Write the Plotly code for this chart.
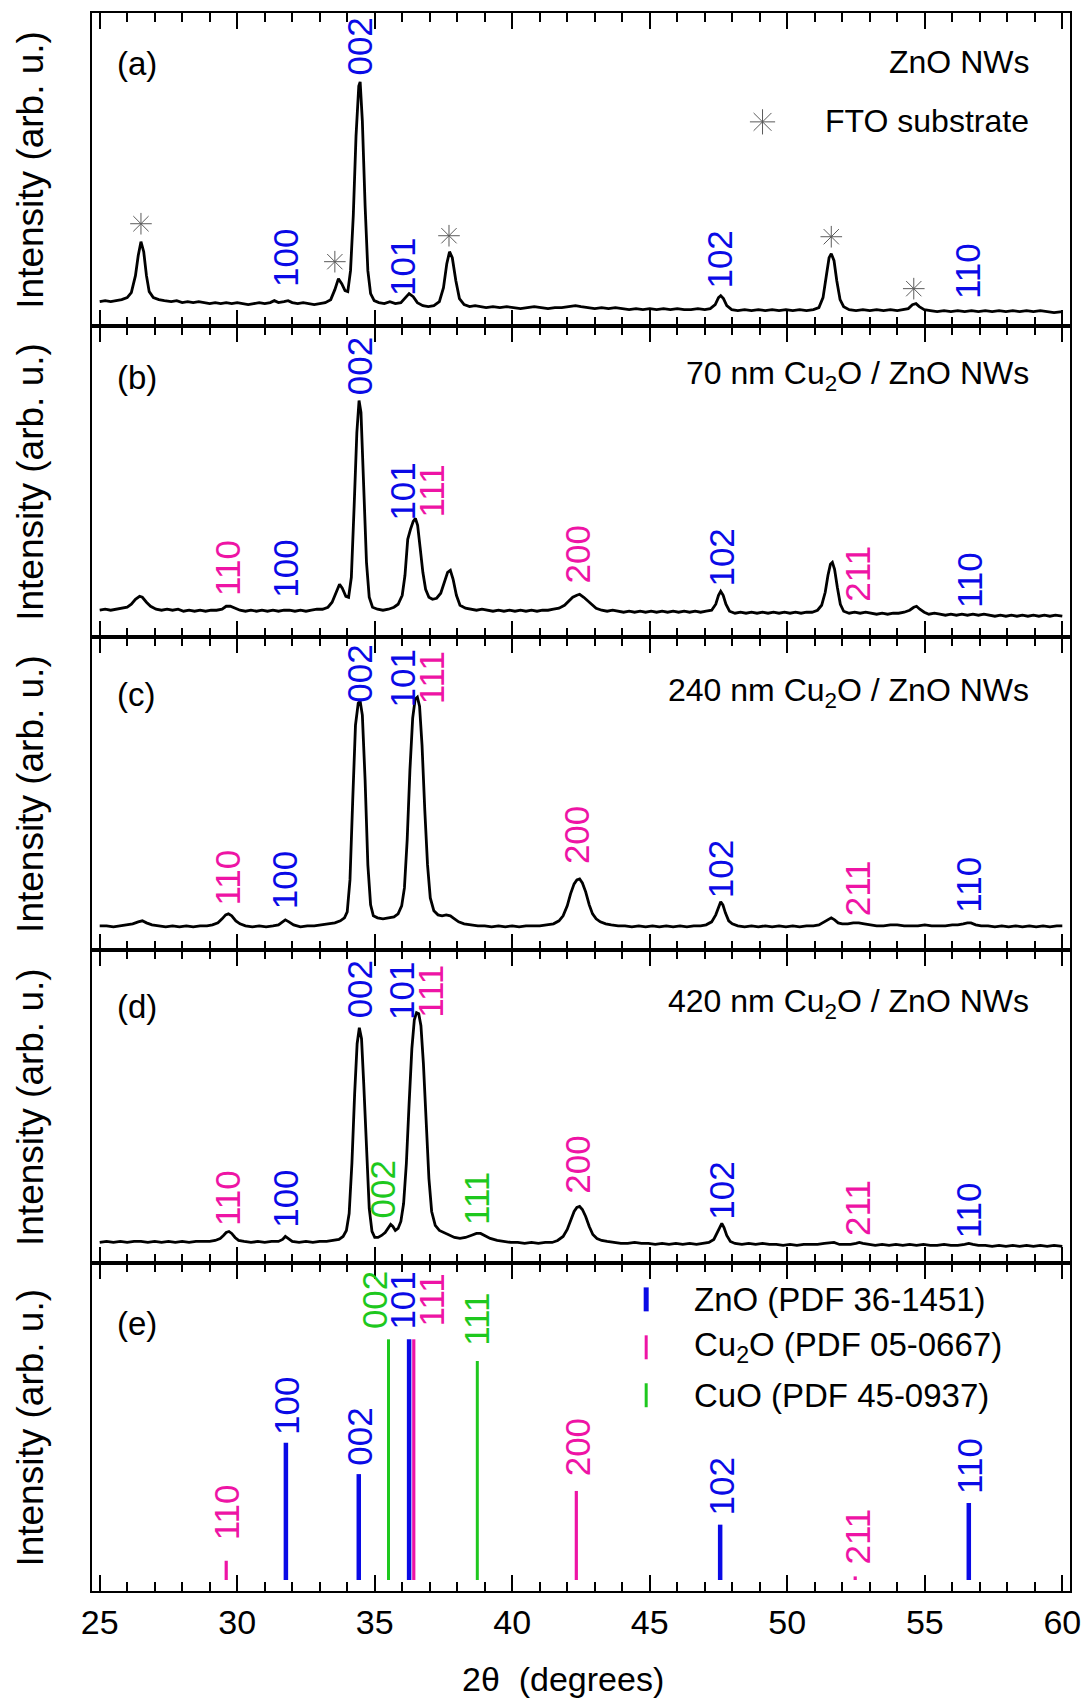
import plotly.graph_objects as go

# ---------------- data ----------------
# XRD patterns: (2theta, intensity in arbitrary units)
pattern_a = [(25.0,24),(25.2,25),(25.4,24),(25.6,25),(25.8,26),(26.0,28),(26.15,33),(26.3,50),(26.4,70),(26.5,84),(26.6,74),(26.7,50),(26.8,34),(26.95,28),(27.15,26),(27.35,25),(27.6,24),(27.8,25),(28.0,23),(28.2,24),(28.4,23),(28.6,24),(28.8,23),(29.0,22),(29.2,23),(29.4,22),(29.6,23),(29.8,22),(30.0,23),(30.2,22),(30.4,21),(30.6,22),(30.8,23),(31.0,22),(31.2,23),(31.35,25),(31.5,23),(31.7,24),(31.85,25),(32.0,23),(32.2,22),(32.4,23),(32.6,22),(32.8,21),(33.0,22),(33.2,23),(33.4,26),(33.55,36),(33.68,47),(33.8,42),(33.92,35),(34.02,34),(34.12,55),(34.22,110),(34.32,190),(34.42,240),(34.47,244),(34.55,205),(34.65,120),(34.75,55),(34.85,32),(34.98,25),(35.15,23),(35.35,22),(35.55,24),(35.75,22),(35.95,23),(36.1,27),(36.25,32),(36.4,29),(36.55,23),(36.75,20),(36.95,19),(37.15,20),(37.35,24),(37.5,38),(37.62,62),(37.72,74),(37.82,68),(37.95,45),(38.08,27),(38.25,21),(38.45,19),(38.65,20),(38.85,19),(39.05,18),(39.3,19),(39.55,18),(39.8,19),(40.05,18),(40.3,17),(40.55,18),(40.8,19),(41.05,18),(41.3,17),(41.55,18),(41.8,18),(42.05,19),(42.3,20),(42.5,19),(42.75,18),(43.0,17),(43.25,18),(43.5,17),(43.75,18),(44.0,17),(44.25,16),(44.5,17),(44.75,16),(45.0,17),(45.25,16),(45.5,17),(45.75,16),(46.0,17),(46.25,16),(46.5,16),(46.75,17),(47.0,16),(47.2,17),(47.38,21),(47.5,28),(47.58,30),(47.68,27),(47.8,20),(47.98,16),(48.2,15),(48.45,16),(48.7,15),(48.95,16),(49.2,15),(49.45,16),(49.7,15),(49.95,16),(50.2,15),(50.45,16),(50.7,15),(50.95,16),(51.15,18),(51.3,28),(51.42,50),(51.52,68),(51.6,72),(51.7,65),(51.8,45),(51.92,26),(52.05,19),(52.25,16),(52.5,15),(52.75,16),(53.0,15),(53.25,16),(53.5,15),(53.75,16),(54.0,15),(54.2,16),(54.4,17),(54.55,21),(54.68,22),(54.8,19),(54.98,16),(55.2,15),(55.45,14),(55.7,15),(55.95,14),(56.2,15),(56.45,14),(56.7,15),(56.95,14),(57.2,15),(57.45,14),(57.7,15),(57.95,14),(58.2,15),(58.45,14),(58.7,15),(58.95,14),(59.2,15),(59.45,14),(59.7,13),(60.0,14)]

pattern_b = [(25.0,27),(25.2,28),(25.4,27),(25.6,28),(25.8,29),(26.0,30),(26.15,33),(26.3,38),(26.45,41),(26.55,40),(26.7,35),(26.85,31),(27.05,28),(27.25,27),(27.45,28),(27.65,27),(27.85,28),(28.05,26),(28.25,27),(28.45,26),(28.65,27),(28.85,26),(29.05,27),(29.25,27),(29.45,28),(29.6,31),(29.75,31),(29.9,29),(30.1,27),(30.3,26),(30.5,27),(30.7,26),(30.9,27),(31.1,26),(31.3,27),(31.5,26),(31.7,27),(31.9,27),(32.1,26),(32.3,27),(32.5,26),(32.7,27),(32.9,28),(33.1,28),(33.3,30),(33.45,35),(33.6,46),(33.72,53),(33.82,49),(33.95,41),(34.05,40),(34.15,60),(34.25,130),(34.35,205),(34.43,237),(34.5,225),(34.6,150),(34.7,75),(34.8,40),(34.92,30),(35.1,28),(35.3,27),(35.5,28),(35.7,30),(35.85,33),(36.0,42),(36.1,62),(36.2,98),(36.3,108),(36.4,116),(36.48,119),(36.56,112),(36.65,90),(36.75,65),(36.85,48),(36.97,40),(37.1,38),(37.25,39),(37.4,44),(37.52,55),(37.65,65),(37.75,67),(37.85,58),(37.97,42),(38.1,32),(38.3,29),(38.5,28),(38.7,27),(38.9,28),(39.1,27),(39.3,26),(39.5,27),(39.7,26),(39.9,27),(40.1,26),(40.3,27),(40.5,26),(40.7,27),(40.9,26),(41.1,27),(41.3,27),(41.5,28),(41.7,29),(41.9,32),(42.05,36),(42.2,40),(42.35,42),(42.45,43),(42.6,40),(42.75,36),(42.9,32),(43.05,29),(43.25,27),(43.45,26),(43.65,27),(43.85,26),(44.05,25),(44.25,26),(44.45,25),(44.65,26),(44.85,25),(45.05,26),(45.25,25),(45.45,26),(45.65,25),(45.85,26),(46.05,25),(46.25,26),(46.45,25),(46.65,26),(46.85,25),(47.05,26),(47.25,27),(47.4,33),(47.5,42),(47.58,46),(47.67,42),(47.77,33),(47.9,26),(48.1,24),(48.3,25),(48.5,24),(48.7,25),(48.9,24),(49.1,25),(49.3,24),(49.5,25),(49.7,24),(49.9,25),(50.1,24),(50.3,25),(50.5,24),(50.7,25),(50.9,25),(51.1,27),(51.25,32),(51.38,45),(51.48,62),(51.57,73),(51.64,75),(51.72,68),(51.82,50),(51.93,33),(52.05,26),(52.25,24),(52.45,25),(52.65,24),(52.85,25),(53.05,24),(53.25,23),(53.45,24),(53.65,23),(53.85,24),(54.05,24),(54.25,25),(54.45,27),(54.6,30),(54.7,31),(54.82,28),(54.98,25),(55.15,23),(55.35,24),(55.55,23),(55.75,22),(55.95,23),(56.15,22),(56.35,23),(56.55,22),(56.75,23),(56.95,22),(57.15,23),(57.35,22),(57.55,21),(57.75,22),(57.95,21),(58.15,22),(58.35,21),(58.55,22),(58.75,21),(58.95,22),(59.15,21),(59.35,22),(59.55,21),(59.75,22),(60.0,21)]

pattern_c = [(25.0,24),(25.25,24),(25.5,23),(25.75,24),(26.0,25),(26.2,26),(26.4,28),(26.55,29),(26.7,27),(26.9,25),(27.15,24),(27.4,23),(27.65,24),(27.9,23),(28.15,24),(28.4,23),(28.65,24),(28.9,24),(29.1,25),(29.3,27),(29.45,31),(29.58,35),(29.68,36),(29.8,34),(29.95,29),(30.1,26),(30.3,24),(30.55,23),(30.8,24),(31.05,23),(31.3,24),(31.5,25),(31.65,28),(31.75,30),(31.88,28),(32.05,25),(32.3,23),(32.55,24),(32.8,24),(33.05,25),(33.3,26),(33.55,27),(33.75,29),(33.9,32),(34.0,38),(34.1,70),(34.2,150),(34.3,225),(34.4,247),(34.47,249),(34.55,235),(34.65,170),(34.75,85),(34.85,45),(34.95,34),(35.1,32),(35.3,31),(35.5,32),(35.7,33),(35.85,36),(35.98,44),(36.08,62),(36.18,110),(36.28,180),(36.38,232),(36.47,251),(36.55,253),(36.63,244),(36.72,205),(36.82,140),(36.92,85),(37.02,52),(37.15,39),(37.3,35),(37.45,34),(37.6,35),(37.75,34),(37.9,31),(38.05,28),(38.25,26),(38.5,25),(38.75,24),(39.0,24),(39.25,23),(39.5,24),(39.75,23),(40.0,24),(40.25,23),(40.5,24),(40.75,24),(41.0,24),(41.25,25),(41.5,26),(41.7,29),(41.85,34),(42.0,44),(42.12,56),(42.25,66),(42.35,70),(42.45,71),(42.55,67),(42.67,58),(42.8,45),(42.92,36),(43.05,31),(43.2,28),(43.4,26),(43.6,25),(43.85,24),(44.1,24),(44.35,23),(44.6,24),(44.85,23),(45.1,24),(45.35,23),(45.6,24),(45.85,23),(46.1,24),(46.35,23),(46.6,24),(46.85,24),(47.05,25),(47.25,28),(47.4,35),(47.5,43),(47.58,48),(47.66,45),(47.75,37),(47.87,29),(48.0,26),(48.2,24),(48.45,23),(48.7,24),(48.95,23),(49.2,24),(49.45,23),(49.7,24),(49.95,23),(50.2,24),(50.45,23),(50.7,24),(50.95,24),(51.15,25),(51.35,28),(51.5,31),(51.6,32),(51.72,30),(51.85,27),(52.0,26),(52.2,26),(52.4,27),(52.6,27),(52.8,26),(53.0,25),(53.25,24),(53.5,24),(53.75,25),(54.0,25),(54.25,24),(54.5,24),(54.75,24),(55.0,25),(55.25,24),(55.5,24),(55.75,24),(56.0,25),(56.2,25),(56.4,26),(56.55,27),(56.68,27),(56.85,25),(57.05,24),(57.3,24),(57.55,23),(57.8,24),(58.05,23),(58.3,24),(58.55,23),(58.8,24),(59.05,23),(59.3,24),(59.55,23),(59.8,24),(60.0,24)]

pattern_d = [(25.0,21),(25.25,22),(25.5,21),(25.75,22),(26.0,21),(26.25,22),(26.5,22),(26.75,21),(27.0,22),(27.25,21),(27.5,22),(27.75,21),(28.0,22),(28.25,21),(28.5,22),(28.75,22),(29.0,22),(29.2,23),(29.38,25),(29.5,28),(29.6,31),(29.7,32),(29.8,30),(29.92,26),(30.05,23),(30.25,22),(30.5,21),(30.75,22),(31.0,21),(31.25,22),(31.5,22),(31.65,24),(31.75,27),(31.85,25),(32.0,22),(32.25,21),(32.5,22),(32.75,21),(33.0,22),(33.25,22),(33.5,23),(33.7,24),(33.85,27),(33.97,33),(34.07,50),(34.17,100),(34.27,170),(34.36,220),(34.44,236),(34.52,225),(34.6,180),(34.7,110),(34.8,55),(34.9,32),(35.0,26),(35.12,26),(35.25,28),(35.38,31),(35.5,36),(35.58,39),(35.66,37),(35.75,33),(35.85,35),(35.95,42),(36.05,60),(36.15,100),(36.25,160),(36.35,215),(36.44,244),(36.52,251),(36.6,250),(36.68,238),(36.77,200),(36.87,140),(36.97,85),(37.07,52),(37.2,38),(37.35,33),(37.5,31),(37.7,29),(37.9,26),(38.1,25),(38.3,26),(38.5,28),(38.7,30),(38.85,30),(39.0,28),(39.2,25),(39.45,23),(39.7,22),(39.95,21),(40.2,21),(40.45,20),(40.7,21),(40.95,20),(41.2,21),(41.45,21),(41.65,23),(41.85,27),(42.0,34),(42.12,43),(42.25,52),(42.35,56),(42.45,57),(42.55,54),(42.67,47),(42.8,37),(42.93,29),(43.08,25),(43.25,23),(43.45,22),(43.7,21),(43.95,20),(44.2,20),(44.45,21),(44.7,20),(44.95,20),(45.2,19),(45.45,20),(45.7,19),(45.95,20),(46.2,19),(46.45,20),(46.7,19),(46.95,20),(47.15,21),(47.33,24),(47.46,31),(47.56,38),(47.62,40),(47.7,36),(47.8,28),(47.93,22),(48.1,20),(48.35,19),(48.6,20),(48.85,19),(49.1,20),(49.35,19),(49.6,19),(49.85,18),(50.1,19),(50.35,18),(50.6,19),(50.85,19),(51.1,19),(51.35,20),(51.55,21),(51.7,21),(51.9,19),(52.1,19),(52.3,19),(52.5,20),(52.62,21),(52.75,20),(52.95,19),(53.2,18),(53.45,19),(53.7,18),(53.95,19),(54.2,18),(54.45,19),(54.7,18),(54.95,19),(55.2,18),(55.45,18),(55.7,19),(55.95,18),(56.2,18),(56.45,19),(56.6,20),(56.75,19),(56.95,18),(57.2,18),(57.45,17),(57.7,18),(57.95,17),(58.2,18),(58.45,17),(58.7,18),(58.95,17),(59.2,18),(59.45,17),(59.7,18),(60.0,17)]

# FTO substrate reflections marked in panel (a)
fto_x = [26.5, 33.55, 37.7, 51.6, 54.6]
fto_y = [102, 64, 90, 89, 37]

# Reference patterns (panel e): positions (2theta) and relative intensities (%)
zno_pos = [31.77, 34.42, 36.25, 47.56, 56.60]
zno_int = [57, 44, 100, 23, 32]
cu2o_pos = [29.60, 36.42, 42.33, 52.47]
cu2o_int = [8, 100, 37, 1.5]
cuo_pos = [35.50, 38.73]
cuo_int = [100, 91]

x_ticks = [25, 30, 35, 40, 45, 50, 55, 60]

# ---------------- styling / layout ----------------
FONT = "Liberation Sans, Arial, Helvetica, sans-serif"
BLUE = "#0A0AE6"
PINK = "#EE14A5"
GREEN = "#1EC81E"
COL = {"b": BLUE, "p": PINK, "g": GREEN}
W, H = 1092, 1704
ML, MR, MT = 92, 15, 11
PH = [313, 312, 313, 314, 328]          # panel heights in px, top to bottom
TOTAL = sum(PH)
MB = H - MT - TOTAL
LBL = 35   # peak label size
TXT = 32   # sample titles

fig = go.Figure()

def ax(i):
    return "" if i == 1 else str(i)

patterns = [pattern_a, pattern_b, pattern_c, pattern_d]
for i, pat in enumerate(patterns, start=1):
    xs = [p[0] for p in pat]
    ys = [p[1] for p in pat]
    fig.add_trace(go.Scatter(x=xs, y=ys, mode="lines",
                             line=dict(color="black", width=2.8),
                             xaxis="x" + ax(i), yaxis="y" + ax(i), showlegend=False,
                             hoverinfo="skip"))

AST = dict(symbol="asterisk-open", color="#5a5a5a", line=dict(width=1.0, color="#5a5a5a"))
fig.add_trace(go.Scatter(x=fto_x, y=fto_y, mode="markers", marker=dict(size=18, **AST),
                         xaxis="x", yaxis="y", showlegend=False))

def sticks(pos, inten):
    xs, ys = [], []
    for p, v in zip(pos, inten):
        xs += [p, p, None]
        ys += [0, v, None]
    return xs, ys

for pos, inten, col, wid in [(cuo_pos, cuo_int, GREEN, 3), (zno_pos, zno_int, BLUE, 4.5),
                             (cu2o_pos, cu2o_int, PINK, 3.2)]:
    sx, sy = sticks(pos, inten)
    fig.add_trace(go.Scatter(x=sx, y=sy, mode="lines", line=dict(color=col, width=wid),
                             xaxis="x5", yaxis="y5", showlegend=False, hoverinfo="skip"))

# legend key for the FTO asterisk (panel a)
fig.add_trace(go.Scatter(x=[49.1], y=[204], mode="markers", marker=dict(size=21, **AST),
                         xaxis="x", yaxis="y", showlegend=False))

layout = dict(width=W, height=H, margin=dict(l=ML, r=MR, t=MT, b=MB),
              paper_bgcolor="white", plot_bgcolor="white",
              font=dict(family=FONT, size=TXT, color="black"), showlegend=False)

E_BASE, E_TOP = 11, 252        # px of 0 % and 100 % in panel (e)
sc = (E_TOP - E_BASE) / 100.0
e_range = [-E_BASE / sc, (PH[4] - E_BASE) / sc]

top = 0
for i in range(1, 6):
    d1 = 1 - top / TOTAL
    top += PH[i - 1]
    d0 = 1 - top / TOTAL
    layout["xaxis" + ax(i)] = dict(
        domain=[0, 1], anchor="y" + ax(i), range=[24.72, 60.28],
        tickvals=x_ticks, ticks="inside", ticklen=16, tickwidth=2, tickcolor="black",
        minor=dict(dtick=1, tick0=25, ticks="inside", ticklen=9, tickwidth=2,
                   tickcolor="black", showgrid=False),
        showline=True, linewidth=2, linecolor="black", mirror="ticks",
        showgrid=False, zeroline=False, showticklabels=(i == 5),
        tickfont=dict(size=34, family=FONT, color="black"))
    yr = [0, PH[i - 1]] if i < 5 else e_range
    layout["yaxis" + ax(i)] = dict(
        domain=[max(d0, 0), min(d1, 1)], anchor="x" + ax(i), range=yr,
        showline=True, linewidth=2, linecolor="black", mirror=True,
        ticks="", showticklabels=False, showgrid=False, zeroline=False)

fig.update_layout(**layout)

def note(i, x, ypx, text, color="black", angle=0, xanchor="center", size=TXT):
    fig.add_annotation(x=x, y=ypx / PH[i - 1], xref="x" + ax(i), yref="y" + ax(i) + " domain",
                       text=text, textangle=angle, showarrow=False,
                       font=dict(size=size, color=color, family=FONT),
                       xanchor=xanchor, yanchor="middle")

# peak labels: (panel, hkl, x, y_px above panel bottom, colour key)
peak_labels = [
    (1, "002", 34.45, 279, "b"), (1, "100", 31.75, 68, "b"), (1, "101", 36.0, 59, "b"),
    (1, "102", 47.55, 66, "b"), (1, "110", 56.55, 55, "b"),
    (2, "110", 29.65, 69, "p"), (2, "100", 31.75, 69, "b"), (2, "002", 34.45, 271, "b"),
    (2, "101", 36.0, 146, "b"), (2, "111", 37.05, 146, "p"), (2, "200", 42.36, 83, "p"),
    (2, "102", 47.6, 80, "b"), (2, "211", 52.55, 64, "p"), (2, "110", 56.6, 57, "b"),
    (3, "110", 29.65, 72, "p"), (3, "100", 31.75, 70, "b"), (3, "002", 34.45, 276, "b"),
    (3, "101", 36.0, 272, "b"), (3, "111", 37.05, 272, "p"), (3, "200", 42.36, 115, "p"),
    (3, "102", 47.6, 81, "b"), (3, "211", 52.55, 62, "p"), (3, "110", 56.6, 65, "b"),
    (4, "110", 29.65, 65, "p"), (4, "100", 31.75, 65, "b"), (4, "002", 34.45, 274, "b"),
    (4, "101", 36.0, 273, "b"), (4, "111", 37.05, 272, "p"), (4, "002", 35.3, 74, "g"),
    (4, "111", 38.7, 65, "g"), (4, "200", 42.36, 99, "p"), (4, "102", 47.6, 73, "b"),
    (4, "211", 52.55, 56, "p"), (4, "110", 56.6, 53, "b"),
    (5, "110", 29.6, 79, "p"), (5, "100", 31.8, 185, "b"), (5, "002", 34.45, 154, "b"),
    (5, "002", 35.0, 291, "g"), (5, "101", 36.0, 291, "b"), (5, "111", 37.05, 291, "p"),
    (5, "111", 38.7, 272, "g"), (5, "200", 42.36, 144, "p"), (5, "102", 47.6, 105, "b"),
    (5, "211", 52.55, 55, "p"), (5, "110", 56.6, 125, "b"),
]
for i, t, x, y, c in peak_labels:
    note(i, x, y, t, COL[c], angle=-90, size=LBL)

# panel letters
for i, (t, y) in enumerate([("(a)", 262), ("(b)", 260), ("(c)", 256), ("(d)", 257), ("(e)", 268)], start=1):
    note(i, 25.55, y, t, xanchor="left", size=33)

# sample titles
note(1, 58.85, 264, "ZnO NWs", xanchor="right")
note(1, 58.85, 205, "FTO substrate", xanchor="right")
note(2, 58.85, 262, "70 nm Cu<sub>2</sub>O / ZnO NWs", xanchor="right")
note(3, 58.85, 258, "240 nm Cu<sub>2</sub>O / ZnO NWs", xanchor="right")
note(4, 58.85, 260, "420 nm Cu<sub>2</sub>O / ZnO NWs", xanchor="right")

# reference legend in (e)
for ypx, text, col, wid in [(292, "ZnO (PDF 36-1451)", BLUE, 5),
                            (244, "Cu<sub>2</sub>O (PDF 05-0667)", PINK, 3),
                            (196, "CuO (PDF 45-0937)", GREEN, 3)]:
    fig.add_shape(type="line", xref="x5", yref="y5 domain", x0=44.87, x1=44.87,
                  y0=(ypx - 12) / PH[4], y1=(ypx + 12) / PH[4],
                  line=dict(color=col, width=wid))
    note(5, 46.55, ypx, text, xanchor="left", size=33)

# y titles
top = 0
for i in range(1, 6):
    yc = 1 - (top + PH[i - 1] / 2.0) / TOTAL
    top += PH[i - 1]
    fig.add_annotation(x=-0.063, y=yc, xref="paper", yref="paper", text="Intensity (arb. u.)",
                       textangle=-90, showarrow=False, xanchor="center", yanchor="middle",
                       font=dict(size=37, family=FONT, color="black"))

fig.add_annotation(x=0.482, y=-88 / TOTAL, xref="paper", yref="paper", text="2θ  (degrees)",
                   showarrow=False, xanchor="center", yanchor="middle",
                   font=dict(size=34, family=FONT, color="black"))

fig.write_html("out.html", config={"displayModeBar": False},
               post_script="document.body.style.margin='0px';document.body.style.overflow='hidden';")
